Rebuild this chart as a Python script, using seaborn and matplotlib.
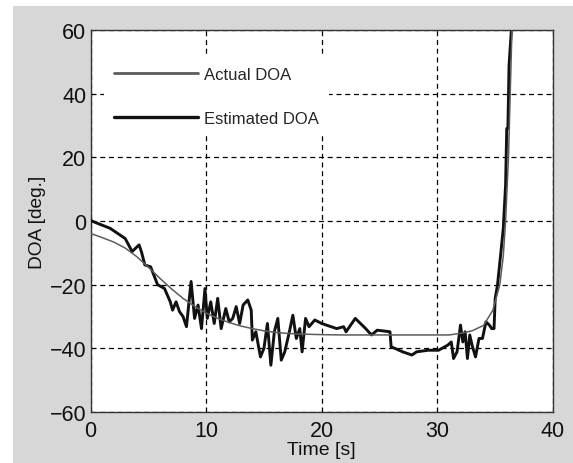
import numpy as np
import pandas as pd
import matplotlib
matplotlib.use("Agg")
import matplotlib.pyplot as plt
from matplotlib.patches import Rectangle
import seaborn as sns

# Actual direction of arrival (smooth trajectory)
actual_t = [0, 1, 2, 3, 4, 5, 6, 7, 8, 9, 10, 11, 12, 13, 14, 15, 16, 17, 18, 19, 20,
            22, 24, 26, 28, 30, 31, 32, 33, 34, 34.8, 35.4, 35.7, 35.9, 36.15, 36.3, 36.45, 36.6]
actual_doa = [-3.9, -5.2, -6.6, -8.5, -11.2, -14.5, -18.0, -21.3, -24.3, -26.8, -28.9, -30.6,
              -31.9, -33.0, -33.8, -34.5, -35.0, -35.3, -35.5, -35.6, -35.7,
              -35.8, -35.8, -35.8, -35.8, -35.8, -35.8, -35.3, -34.5, -32.8, -28.0, -20.0,
              -11.0, 0.0, 20.0, 40.0, 60.0, 75.0]

# Estimated direction of arrival (tracker output)
est_t = [0.0, 0.1, 1.7, 3.0, 3.6, 4.2, 4.4, 4.7, 5.2, 5.8, 6.4, 6.9, 7.1, 7.4, 7.7, 8.0,
         8.3, 8.7, 9.0, 9.3, 9.6, 9.9, 10.1, 10.4, 10.7, 11.0, 11.3, 11.7, 12.0, 12.3,
         12.6, 12.9, 13.2, 13.6, 13.9, 14.0, 14.3, 14.7, 15.0, 15.3, 15.6, 15.9, 16.2,
         16.5, 16.8, 17.2, 17.5, 17.8, 18.1, 18.3, 18.6, 18.9, 19.4, 20.0, 20.8, 21.3,
         21.9, 22.1, 22.9, 23.8, 24.3, 24.8, 25.9, 26.0, 27.0, 27.8, 28.2, 29.2, 30.1,
         30.9, 31.2, 31.4, 31.7, 32.0, 32.2, 32.4, 32.6, 32.8, 33.0, 33.3, 33.6, 33.9,
         34.2, 34.5, 34.7, 34.9, 35.0, 35.2, 35.5, 35.7, 35.9, 36.0, 36.1, 36.2, 36.4, 36.5]
est_doa = [0.5, 0.0, -2.3, -5.5, -9.6, -7.5, -9.6, -13.8, -14.4, -20.0, -21.2, -25.4,
           -28.0, -25.4, -28.5, -30.0, -33.2, -19.0, -30.6, -26.4, -33.8, -21.2, -30.6,
           -25.4, -32.2, -24.3, -33.8, -27.5, -31.7, -30.6, -26.9, -32.2, -26.4, -24.8,
           -28.0, -37.4, -34.8, -42.7, -40.0, -32.2, -45.3, -34.8, -30.6, -43.7, -41.1,
           -34.8, -29.6, -36.9, -33.8, -41.1, -30.6, -33.2, -31.1, -32.2, -33.2, -33.8,
           -33.2, -34.8, -30.6, -33.8, -35.8, -34.3, -34.8, -39.5, -41.1, -42.1, -41.1,
           -40.6, -40.6, -39.0, -38.0, -43.2, -41.1, -32.7, -38.0, -34.8, -43.2, -35.8,
           -39.0, -42.7, -36.9, -36.9, -31.7, -32.7, -33.8, -33.8, -24.3, -20.1, -9.6,
           -2.3, 11.3, 29.1, 29.1, 49.0, 60.0, 70.0]

x_ticks = [0, 10, 20, 30, 40]
y_ticks = [-60, -40, -20, 0, 20, 40, 60]

actual_df = pd.DataFrame({"Time": actual_t, "DOA": actual_doa})
est_df = pd.DataFrame({"Time": est_t, "DOA": est_doa})

sns.set_theme(style="white")
plt.rcParams["font.family"] = ["Liberation Sans", "DejaVu Sans"]
plt.rcParams["axes.unicode_minus"] = True

fig = plt.figure(figsize=(5.73, 4.64), dpi=100, facecolor="white")
# light grey panel behind the chart
fig.patches.append(Rectangle((13 / 573, 0), 1, 1 - 7 / 464, transform=fig.transFigure,
                             facecolor="#d7d7d7", edgecolor="none", zorder=-10))
ax = fig.add_axes([90.5 / 573, 1 - 413 / 464, 462.5 / 573, 382 / 464])
ax.set_facecolor("white")

sns.lineplot(data=actual_df, x="Time", y="DOA", ax=ax, sort=False, estimator=None,
             color="#5c5c5c", linewidth=1.1, label="Actual DOA", zorder=4)
sns.lineplot(data=est_df, x="Time", y="DOA", ax=ax, sort=False, estimator=None,
             color="#111111", linewidth=2.1, label="Estimated DOA", zorder=3)

ax.set_xlim(0, 40)
ax.set_ylim(-60, 60)
ax.set_xticks(x_ticks)
ax.set_yticks(y_ticks)
ax.tick_params(axis="both", labelsize=15.5, direction="in", length=3, color="#333333",
               labelcolor="#111111")
ax.tick_params(axis="x", pad=6)
ax.tick_params(axis="y", pad=3)
ax.set_xlabel("Time [s]", fontsize=14, labelpad=0, color="#111111")
ax.set_ylabel("DOA [deg.]", fontsize=13.8, labelpad=3, color="#111111")

ax.grid(True, color="black", linestyle=(0, (4, 3)), linewidth=0.9)
for s in ax.spines.values():
    s.set_color("#333333")
    s.set_linewidth(1.0)

leg = ax.legend(loc="upper left", bbox_to_anchor=(0.03, 0.93), borderaxespad=0,
                frameon=True, facecolor="white", edgecolor="none", framealpha=1,
                fontsize=12, handlelength=5.0, handletextpad=0.4, labelspacing=1.75,
                borderpad=0.6, fancybox=False)
leg.get_lines()[0].set_linewidth(2.0)
leg.get_lines()[1].set_linewidth(2.4)
leg.set_zorder(5)

fig.savefig("out.png", dpi=100, facecolor="white")
